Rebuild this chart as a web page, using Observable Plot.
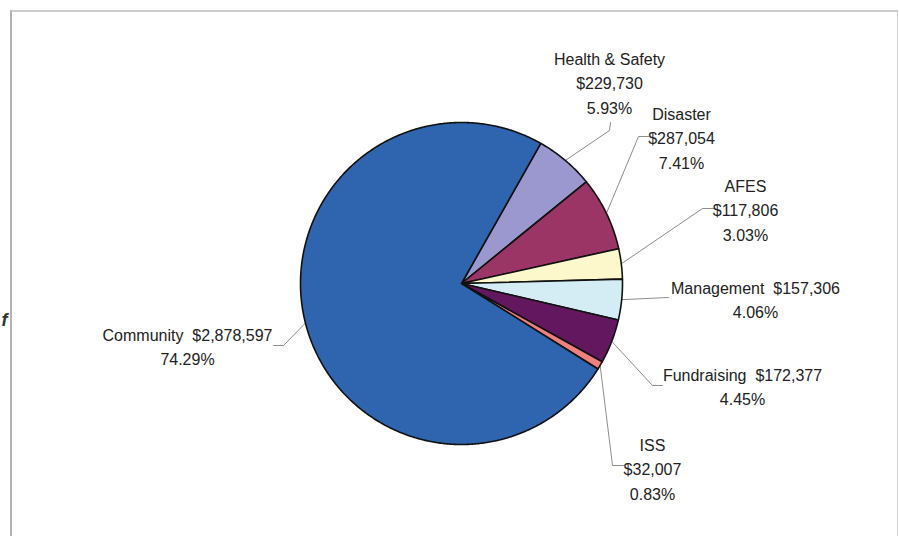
<!DOCTYPE html>
<html>
<head>
<meta charset="utf-8">
<script src="https://cdn.jsdelivr.net/npm/d3@7"></script>
<script src="https://cdn.jsdelivr.net/npm/@observablehq/plot@0.6"></script>
<style>
  html, body { margin: 0; padding: 0; background: #fff; overflow: hidden; }
  #wrap { position: relative; width: 899px; height: 536px; overflow: hidden; }
  #frame { position: absolute; left: 10px; top: 10px; width: 885px; height: 600px;
           border-left: 2px solid #b3b3b3; border-top: 2px solid #cdcdcd; border-right: 1px solid #d2d2d2; }
  #chart { position: absolute; left: 0; top: 0; }
</style>
</head>
<body>
<div id="wrap"><div id="frame"></div><div id="chart"></div></div>
<script>
// ---- data (clockwise, starting from Health & Safety) ----
const categories = ["Health & Safety", "Disaster", "AFES", "Management", "Fundraising", "ISS", "Community"];
const amounts    = [229730, 287054, 117806, 157306, 172377, 32007, 2878597];
const percents   = [5.93, 7.41, 3.03, 4.06, 4.45, 0.83, 74.29];
const sliceColors = ["#9a98ce", "#9b3566", "#fdf8cc", "#d4ecf3", "#62175f", "#f08080", "#2f64ae"];
const fragmentText = ["f"];

// ---- layout ----
const W = 899, H = 536;
const pie = { cx: 461, cy: 283, r: 161, startDeg: 29.5 };
// label block centre, stacking, and leader elbow/end points
const labelLayout = {
  "Health & Safety": { x: 609, y: 81,  oneLine: false, leader: [[609, 130], [610, 122]] },
  "Disaster":        { x: 681, y: 136, oneLine: false, leader: [[638, 136], [648, 136]] },
  "AFES":            { x: 745, y: 208, oneLine: false, leader: [[702, 208], [713, 208]] },
  "Management":      { x: 755, y: 298, oneLine: true,  leader: [[668, 297]] },
  "Fundraising":     { x: 742, y: 385, oneLine: true,  leader: [[652, 385], [662, 385]] },
  "ISS":             { x: 652, y: 467, oneLine: false, leader: [[612, 465], [623, 465]] },
  "Community":       { x: 187, y: 345, oneLine: true,  leader: [[283, 345], [273, 345]] }
};

const fmt = d3.format(",");
const arcs = d3.pie().sort(null).value(d => d.amount)
  .startAngle(pie.startDeg * Math.PI / 180)
  .endAngle(pie.startDeg * Math.PI / 180 + 2 * Math.PI)(
    categories.map((name, i) => ({ name, amount: amounts[i], pct: percents[i] }))
  );

const px = a => pie.cx + pie.r * Math.sin(a);
const py = a => pie.cy - pie.r * Math.cos(a);

// slice polygons
const slicePts = [];
for (const a of arcs) {
  const name = a.data.name;
  slicePts.push({ name, x: pie.cx, y: pie.cy });
  const n = Math.max(2, Math.ceil((a.endAngle - a.startAngle) / (Math.PI / 360)));
  for (let k = 0; k <= n; k++) {
    const t = a.startAngle + (a.endAngle - a.startAngle) * k / n;
    slicePts.push({ name, x: px(t), y: py(t) });
  }
}

// leader lines
const leaderPts = [];
for (const a of arcs) {
  const name = a.data.name;
  const mid = (a.startAngle + a.endAngle) / 2;
  leaderPts.push({ name, x: px(mid), y: py(mid) });
  for (const [x, y] of labelLayout[name].leader) leaderPts.push({ name, x, y });
}

// labels
const labels = arcs.map(a => {
  const d = a.data, L = labelLayout[d.name];
  const money = "$" + fmt(d.amount), pct = d.pct.toFixed(2) + "%";
  const text = L.oneLine ? `${d.name}\u00a0\u00a0${money}\n${pct}` : `${d.name}\n${money}\n${pct}`;
  return { x: L.x, y: L.y, text };
});

const chart = Plot.plot({
  width: W, height: H, margin: 0,
  x: { domain: [0, W], range: [0, W], axis: null },
  y: { domain: [0, H], range: [0, H], axis: null },
  color: { domain: categories, range: sliceColors },
  style: { background: "transparent", fontFamily: "'Liberation Sans', Arial, sans-serif" },
  marks: [
    Plot.line(leaderPts, { x: "x", y: "y", z: "name", stroke: "#8d8d8d", strokeWidth: 1 }),
    Plot.line(slicePts, { x: "x", y: "y", z: "name", fill: "name", stroke: "#111",
      strokeWidth: 1.6, curve: "linear-closed", strokeLinejoin: "round" }),
    Plot.text(labels, { x: "x", y: "y", text: "text", fontSize: 16, lineHeight: 1.52,
      fill: "#222", textAnchor: "middle", fontFamily: "'Liberation Sans', Arial, sans-serif" }),
    Plot.text(fragmentText, { x: () => 4, y: () => 320, text: d => d, fontSize: 18,
      fontStyle: "italic", fontWeight: "bold", fill: "#333", textAnchor: "middle" })
  ]
});
document.getElementById("chart").appendChild(chart);
</script>
</body>
</html>
